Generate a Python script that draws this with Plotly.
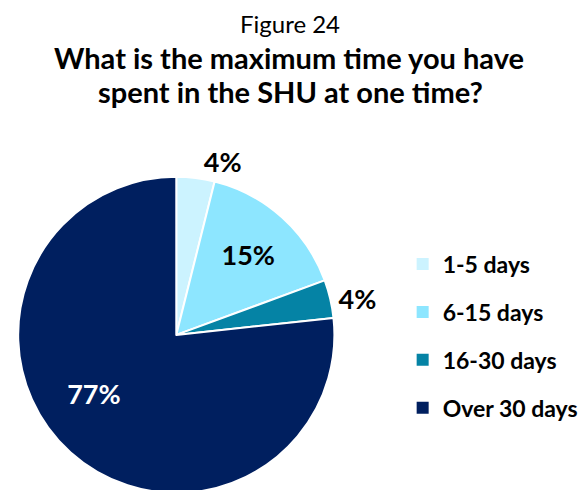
import plotly.graph_objects as go

categories = ["1-5 days", "6-15 days", "16-30 days", "Over 30 days"]
values = [3.9, 15.5, 3.9, 76.7]
labels_text = ["4%", "15%", "4%", "77%" + "\u00a0" * 9]
colors = ["#CCF3FF", "#8DE6FF", "#0583A5", "#001F5F"]
label_positions = ["outside", "inside", "outside", "inside"]
label_colors = ["#000000", "#000000", "#000000", "#FFFFFF"]

W, H = 587, 490
FONT = "Lato"

fig = go.Figure()
fig.add_trace(go.Pie(
    labels=categories, values=values, text=labels_text,
    textinfo="text", textposition=label_positions,
    textfont=dict(family=FONT, size=27, color=label_colors, weight="bold"),
    insidetextorientation="horizontal",
    marker=dict(colors=colors, line=dict(color="white", width=2)),
    sort=False, direction="clockwise", rotation=0,
    showlegend=False, hoverinfo="label+percent",
    domain=dict(x=[0, 325 / W], y=[0, 0.652]),
))
for cat, col in zip(categories, colors):
    fig.add_trace(go.Scatter(
        x=[None], y=[None], mode="markers", name=cat, legendgroup=cat,
        marker=dict(symbol="square", size=12, color=col, line=dict(width=0)),
        showlegend=True,
    ))

fig.add_annotation(text="Figure 24", x=278 / W, y=1 - 16 / H, xref="paper", yref="paper",
                   xanchor="center", yanchor="middle", showarrow=False,
                   font=dict(family=FONT, size=24, color="#000000"))
fig.add_annotation(text="What is the maximum time you have",
                   x=277 / W, y=1 - 50 / H, xref="paper", yref="paper",
                   xanchor="center", yanchor="middle", showarrow=False,
                   font=dict(family=FONT, size=29, color="#000000", weight="bold"))
fig.add_annotation(text="spent in the SHU at one time?",
                   x=278 / W, y=1 - 84 / H, xref="paper", yref="paper",
                   xanchor="center", yanchor="middle", showarrow=False,
                   font=dict(family=FONT, size=29, color="#000000", weight="bold"))

fig.update_layout(
    width=W, height=H,
    margin=dict(l=0, r=0, t=0, b=0),
    paper_bgcolor="white", plot_bgcolor="white",
    xaxis=dict(visible=False), yaxis=dict(visible=False),
    legend=dict(x=392 / W, y=1 - 237 / H, xanchor="left", yanchor="top",
                font=dict(family=FONT, size=23, color="#000000", weight="bold"),
                tracegroupgap=15, bgcolor="rgba(0,0,0,0)"),
)

fig.write_html("out.html")
